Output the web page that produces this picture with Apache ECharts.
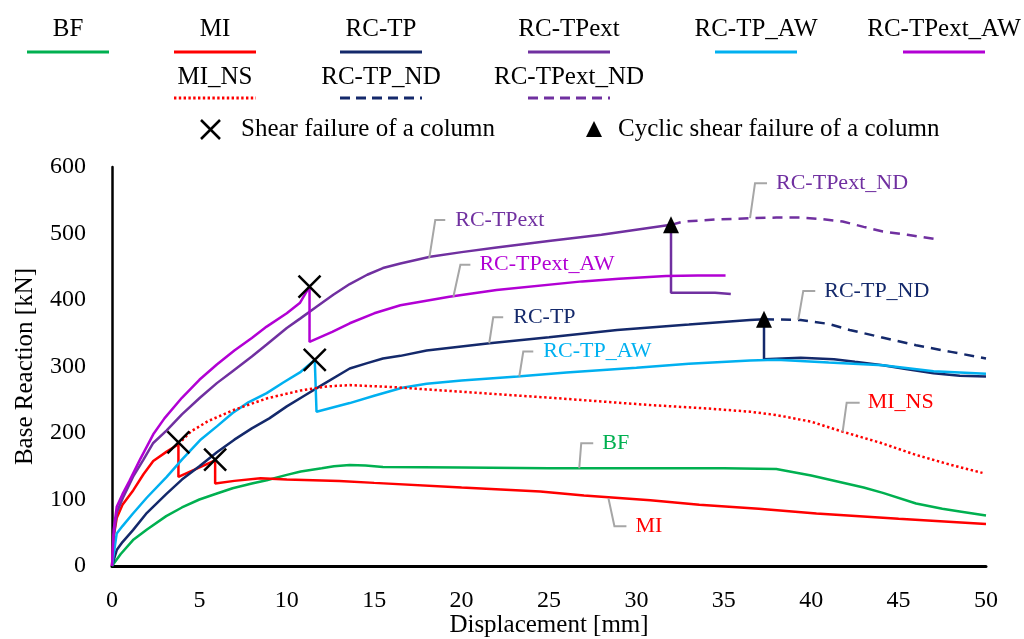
<!DOCTYPE html>
<html>
<head>
<meta charset="utf-8">
<script src="https://cdn.jsdelivr.net/npm/echarts@6/dist/echarts.min.js"></script>
<style>
html,body{margin:0;padding:0;background:#fff;}
#chart{width:1024px;height:639px;}
</style>
</head>
<body>
<div id="chart"></div>
<script>
// ---------------- DATA ----------------
const xTicks = [0,5,10,15,20,25,30,35,40,45,50];
const yTicks = [0,100,200,300,400,500,600];

const BF = [[0,0],[0.5,18],[1.2,39],[2,55],[3.1,75],[4,88],[5,100],[6,109],[6.9,117],[8,124],[8.85,129],[10,137],[10.8,142],[12,147],[12.7,150],[13.6,152],[14.5,151],[15.5,149],[20,148],[25,147],[30,147],[35,147],[38,146],[40,136],[41.5,127],[43,118],[44.1,110],[46,94],[47.5,86],[48.5,82],[50,76]];
const MI = [[0,0],[0.1,45],[0.27,72],[0.6,92],[1.22,114],[1.8,138],[2.36,158],[3.13,172],[3.8,183],[3.8,134],[5.9,159],[5.9,124],[7,128],[8.5,132],[10,130],[13,128],[15,125],[20,118],[24.5,112],[27,106],[30.8,99],[33.6,92],[37,86],[40.3,79],[45,71],[50,63]];
const MI_NS = [[3.8,183],[4.5,202],[5.5,218],[6.9,234],[8.85,252],[10.8,264],[12.3,270],[13.6,272],[16.1,269],[20,262],[25.1,253],[30.8,242],[34,237],[36.5,232],[38,227],[40,217],[41.8,202],[44,185],[46,167],[48,152],[49.8,140]];
const RC_TP = [[0,0],[0.27,24],[0.6,36],[1.2,54],[2,80],[3.1,108],[4,130],[5,150],[6,171],[7,190],[8,207],[9,222],[10,240],[11,256],[12,272],[13.6,297],[14.6,305],[15.5,312],[16.5,316],[18,324],[21.6,335],[25,344],[28.9,355],[33,363],[36.5,370],[37.3,371],[37.3,311],[39.4,313],[41.3,311],[42.5,307],[44.1,302],[45.5,296],[47,290],[48.5,286],[50,285]];
const RC_TP_ND = [[37.3,371],[39.4,370],[41,364],[42.2,355],[44,344],[46,332],[48,322],[50,312]];
const RC_TPext = [[0,0],[0.1,45],[0.27,80],[0.65,104],[1.2,134],[1.8,160],[2.36,185],[3.13,204],[4,228],[5.03,253],[6,275],[6.9,293],[8,315],[8.85,333],[10,358],[10.76,372],[11.7,390],[12.66,408],[13.6,424],[14.6,438],[15.5,448],[16.5,455],[18.2,465],[20,472],[22,479],[25.1,489],[28,498],[31.98,513],[31.98,411],[33,411],[34.5,411],[35.4,409]];
const RC_TPext_ND = [[31.98,513],[32.7,518],[34.5,521],[36.5,523],[38,524],[39.4,524],[40.5,522],[41.8,518],[43,510],[44.1,503],[45.5,498],[47,492]];
const RC_TP_AW = [[0,0],[0.27,49],[0.6,60],[1.2,79],[2,103],[3.13,134],[4,160],[5.03,189],[6,210],[6.9,230],[7.8,246],[8.85,260],[9.8,276],[10.8,292],[11.6,310],[11.7,232],[13.6,245],[15,256],[16.6,268],[18,274],[20,279],[23.2,285],[26,291],[30,298],[33,304],[36.5,309],[38,310],[41,306],[44.1,302],[47,293],[50,289]];
const RC_TPext_AW = [[0,0],[0.1,55],[0.27,89],[0.6,108],[1,128],[1.6,160],[2.36,198],[3,222],[4,253],[5,280],[6,303],[7,324],[8,343],[8.85,360],[10,380],[10.76,396],[11.3,420],[11.3,337],[12.6,352],[13.6,365],[15,380],[16.5,392],[19.3,405],[22,415],[26.9,428],[29,432],[31.7,436],[33.5,437],[35.1,437]];

const shearPts = [[3.8,186],[5.9,160],[11.3,420],[11.6,310]];
const cyclicPts = [[31.98,513],[37.3,371]];

const seriesNames = ['BF','MI','RC-TP','RC-TPext','RC-TP_AW','RC-TPext_AW','MI_NS','RC-TP_ND','RC-TPext_ND'];
const markerNames = ['Shear failure of a column','Cyclic shear failure of a column'];

const calloutNames = ['RC-TPext','RC-TPext_AW','RC-TP','RC-TP_AW','BF','MI','RC-TPext_ND','RC-TP_ND','MI_NS'];
const calloutAnchors = [[18.15,463],[19.53,405],[21.58,335],[23.3,285],[26.73,147],[28.4,102],[36.5,523],[39.26,370],[41.8,202]];

// ---------------- STYLE / LAYOUT ----------------
const FONT = 'Liberation Serif';
const colors = {
  'BF':'#00b050','MI':'#ff0000','RC-TP':'#14296b','RC-TPext':'#7030a0',
  'RC-TP_AW':'#00b0f0','RC-TPext_AW':'#b200d4','MI_NS':'#ff0000','RC-TP_ND':'#14296b','RC-TPext_ND':'#7030a0'
};
const dashes = {'MI_NS':[2.4,2.6],'RC-TP_ND':[10,7],'RC-TPext_ND':[10,7]};
const seriesData = {
  'BF':BF,'MI':MI,'RC-TP':RC_TP,'RC-TPext':RC_TPext,'RC-TP_AW':RC_TP_AW,'RC-TPext_AW':RC_TPext_AW,
  'MI_NS':MI_NS,'RC-TP_ND':RC_TP_ND,'RC-TPext_ND':RC_TPext_ND
};
// callout leader offsets: [bendDx, bendDy, endDx, textDx]
const calloutOffsets = [[6,-38,16,26],[7,-32,17,26],[4,-26,14,24],[4,-25,14,24],[2,-25,14,23],[6,28,18,27],[5,-35,17,26],[5,-29,17,26],[4,-29,17,25]];

// legend layout
const legendLayout = {
  'BF':[68,29,52],'MI':[215,29,52],'RC-TP':[381,29,52],'RC-TPext':[569,29,52],'RC-TP_AW':[756,29,52],'RC-TPext_AW':[944,29,52],
  'MI_NS':[215,77,98],'RC-TP_ND':[381,77,98],'RC-TPext_ND':[569,77,98]
};

const chart = echarts.init(document.getElementById('chart'), null, {renderer:'canvas'});

const lineSeries = seriesNames.map(n => ({
  name:n, type:'line', data:seriesData[n], showSymbol:false, symbol:'none',
  lineStyle:{color:colors[n], width:2.5, type: dashes[n] || 'solid'},
  itemStyle:{color:colors[n]}, z:2, silent:true
}));

const xPath = 'path://M0,0L20,20M20,0L0,20';

const legendGraphics = [];
seriesNames.forEach(n => {
  const [cx, ty, ly] = legendLayout[n];
  legendGraphics.push({type:'text', x:cx, y:ty, style:{text:n, fill:'#000', font:'25px "'+FONT+'"', textAlign:'center', textVerticalAlign:'middle'}});
  legendGraphics.push({type:'line', shape:{x1:cx-41, y1:ly, x2:cx+41, y2:ly}, style:{stroke:colors[n], lineWidth:3, lineDash: dashes[n] ? (n==='MI_NS'?[2.4,2.4]:[10,6]) : null}});
});
// marker legend
legendGraphics.push({type:'line', shape:{x1:201,y1:120,x2:220,y2:139}, style:{stroke:'#000', lineWidth:2.5}});
legendGraphics.push({type:'line', shape:{x1:220,y1:120,x2:201,y2:139}, style:{stroke:'#000', lineWidth:2.5}});
legendGraphics.push({type:'text', x:241, y:129, style:{text:markerNames[0], fill:'#000', font:'25px "'+FONT+'"', textAlign:'left', textVerticalAlign:'middle'}});
legendGraphics.push({type:'polygon', shape:{points:[[594,121],[602,137],[586,137]]}, style:{fill:'#000'}});
legendGraphics.push({type:'text', x:618, y:129, style:{text:markerNames[1], fill:'#000', font:'25px "'+FONT+'"', textAlign:'left', textVerticalAlign:'middle'}});

const option = {
  animation:false,
  backgroundColor:'#fff',
  grid:{left:112, right:38, top:167, bottom:73, containLabel:false, outerBoundsMode:'none'},
  xAxis:{
    type:'value', min:0, max:50, interval:5,
    axisLine:{show:true, onZero:false, lineStyle:{color:'#000', width:3}},
    axisTick:{show:false}, splitLine:{show:false},
    axisLabel:{fontFamily:FONT, fontSize:24, color:'#000', margin:23},
    name:'Displacement [mm]', nameLocation:'middle', nameGap:47, nameMoveOverlap:false,
    nameTextStyle:{fontFamily:FONT, fontSize:25, color:'#000'}
  },
  yAxis:{
    type:'value', min:0, max:600, interval:100,
    axisLine:{show:true, lineStyle:{color:'#000', width:2.5}},
    axisTick:{show:false}, splitLine:{show:false},
    axisLabel:{fontFamily:FONT, fontSize:24, color:'#000', margin:26},
    name:'Base Reaction [kN]', nameLocation:'middle', nameGap:74, nameMoveOverlap:false,
    nameTextStyle:{fontFamily:FONT, fontSize:25, color:'#000'}
  },
  graphic:legendGraphics,
  series: lineSeries.concat([
    {
      name:markerNames[0], type:'scatter', data:shearPts, symbol:xPath, symbolSize:22,
      itemStyle:{color:'none', borderColor:'#000', borderWidth:2.5, opacity:1}, z:5, silent:true
    },
    {
      name:markerNames[1], type:'scatter', data:cyclicPts, symbol:'triangle', symbolSize:[16,17],
      itemStyle:{color:'#000', opacity:1}, z:5, silent:true
    },
    {
      name:'callouts', type:'custom', data:calloutAnchors, clip:false, silent:true, z:6,
      renderItem:function(params, api){
        const i = params.dataIndex;
        const p = api.coord([api.value(0), api.value(1)]);
        const o = calloutOffsets[i];
        const nm = calloutNames[i];
        const by = p[1]+o[1];
        return {type:'group', children:[
          {type:'polyline', shape:{points:[[p[0],p[1]],[p[0]+o[0],by],[p[0]+o[2],by]]}, style:{stroke:'#a6a6a6', lineWidth:2, fill:null}},
          {type:'text', x:p[0]+o[3], y:by, style:{text:nm, fill:colors[nm], font:'22px "'+FONT+'"', textAlign:'left', textVerticalAlign:'middle'}}
        ]};
      }
    }
  ])
};
chart.setOption(option);
</script>
</body>
</html>
